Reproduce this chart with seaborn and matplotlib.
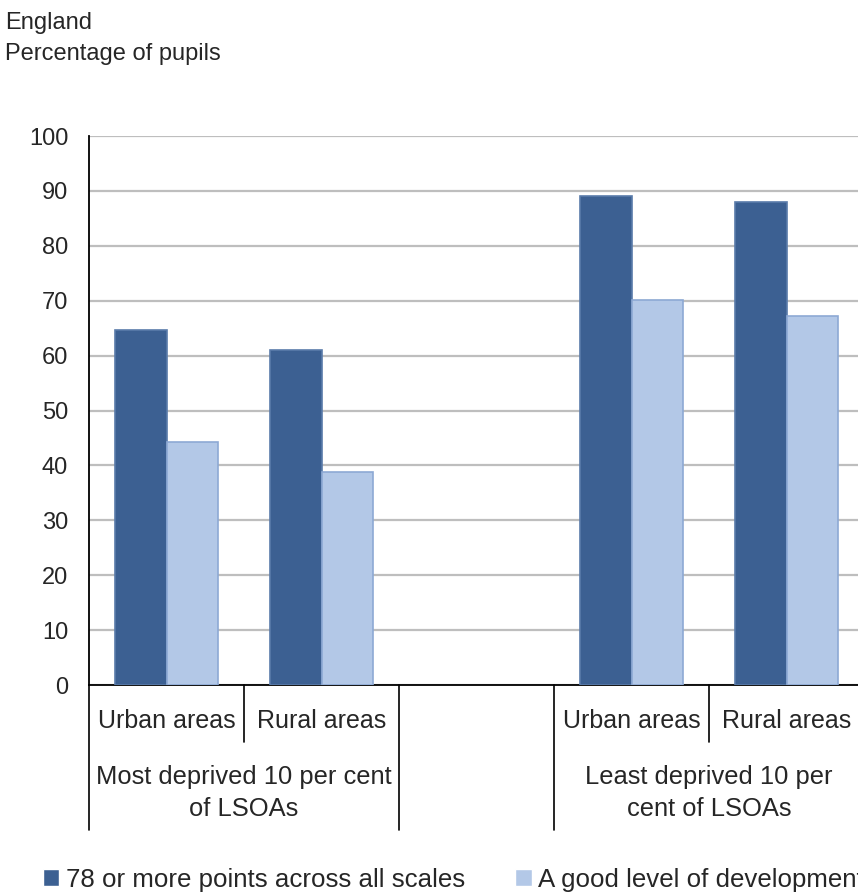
import matplotlib
matplotlib.use("Agg")
import matplotlib.pyplot as plt
import matplotlib.transforms as mtransforms
import seaborn as sns
import pandas as pd

# Data: percentage of pupils by deprivation group and area type
slots = ["most_urban", "most_rural", "gap", "least_urban", "least_rural"]
slot_labels = ["Urban areas", "Rural areas", "", "Urban areas", "Rural areas"]
group_labels = ["Most deprived 10 per cent\nof LSOAs", "Least deprived 10 per\ncent of LSOAs"]
series = ["78 or more points across all scales", "A good level of development"]
points78 = [64.7, 61.0, 89.1, 88.0]
good_level = [44.2, 38.8, 70.1, 67.2]
data_slots = ["most_urban", "most_rural", "least_urban", "least_rural"]

df = pd.DataFrame({
    "slot": data_slots * 2,
    "measure": [series[0]] * 4 + [series[1]] * 4,
    "value": points78 + good_level,
})

sns.set_style("white")
plt.rcParams["font.family"] = ["Liberation Sans", "DejaVu Sans"]

dark = "#3C6092"
light = "#B3C8E7"

fig = plt.figure(figsize=(8.58, 8.94), dpi=100)
ax = fig.add_axes([89 / 858, 1 - 685 / 894, 775 / 858, 549 / 894])

sns.barplot(data=df, x="slot", y="value", hue="measure", order=slots,
            hue_order=series, palette=[dark, light], width=0.67,
            saturation=1, ax=ax, zorder=3)

# bar outlines
for bars, ec in zip(ax.containers, ["#5A7BAA", "#8DA9D4"]):
    for b in bars:
        b.set_edgecolor(ec)
        b.set_linewidth(1.2)

ax.set_ylim(0, 100)
ax.set_xlim(-0.5, len(slots) - 0.5)
ax.set_yticks(range(0, 101, 10))
ax.yaxis.grid(True, color="#BEBEBE", linewidth=1.6, zorder=0)
ax.set_axisbelow(True)
ax.tick_params(axis="y", direction="out", length=6, width=1.2, color="black",
               labelsize=17, pad=9)
ax.set_xticks([])
ax.set_xlabel("")
ax.set_ylabel("")
for s in ["top", "right"]:
    ax.spines[s].set_visible(False)
for s in ["left", "bottom"]:
    ax.spines[s].set_color("black")
    ax.spines[s].set_linewidth(1.3)

# multi-level category axis
trans = mtransforms.blended_transform_factory(ax.transData, ax.transAxes)
for i, lab in enumerate(slot_labels):
    if lab:
        ax.text(i, -0.066, lab, transform=trans, ha="center", va="center",
                fontsize=18, clip_on=False)
inner = [0.5, 3.5]
outer = [-0.5, 1.5, 2.5]
for xb in inner:
    ax.plot([xb, xb], [0, -0.104], transform=trans, color="black",
            linewidth=1.2, clip_on=False)
for xb in outer:
    ax.plot([xb, xb], [0, -0.264], transform=trans, color="black",
            linewidth=1.2, clip_on=False)
ax.text(0.5, -0.197, group_labels[0], transform=trans, ha="center",
        va="center", fontsize=18.4, linespacing=1.45, clip_on=False)
ax.text(3.5, -0.197, group_labels[1], transform=trans, ha="center",
        va="center", fontsize=18.4, linespacing=1.45, clip_on=False)

# legend
handles, labels = ax.get_legend_handles_labels()
ax.get_legend().remove()
fig.legend(handles, labels, loc="center left", bbox_to_anchor=(43 / 858, 1 - 880 / 894),
           ncol=2, frameon=False, fontsize=18.6, handlelength=0.63, handleheight=0.63,
           handletextpad=0.25, columnspacing=1.95, borderaxespad=0, borderpad=0)

# titles
fig.text(5 / 858, 1 - 29 / 894, "England", ha="left", va="baseline", fontsize=17)
fig.text(5 / 858, 1 - 60 / 894, "Percentage of pupils", ha="left", va="baseline", fontsize=17)

fig.savefig("out.png", dpi=100)
